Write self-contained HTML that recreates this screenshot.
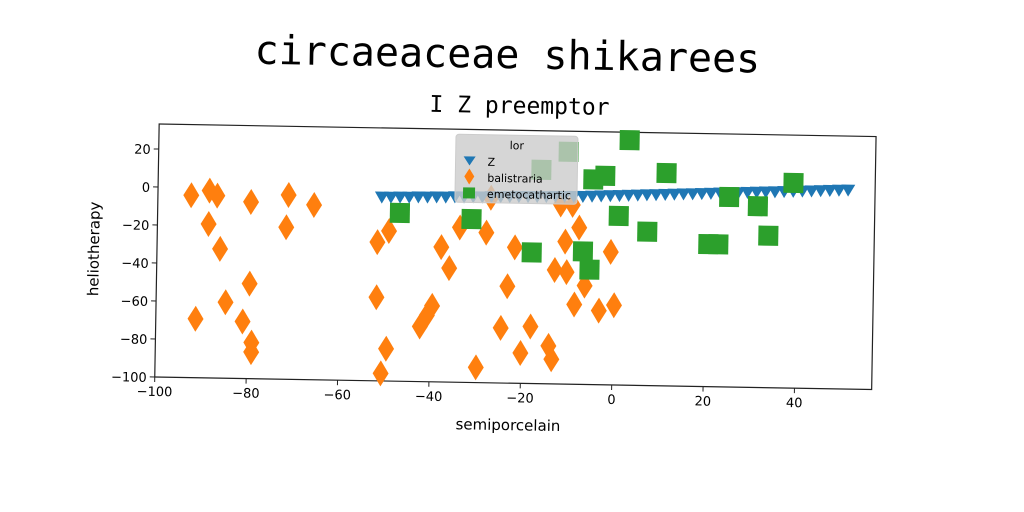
<!DOCTYPE html>
<html><head><meta charset="utf-8"><style>
html,body{margin:0;padding:0;background:#fff;}
svg{display:block;font-family:"DejaVu Sans","Liberation Sans",sans-serif;}
</style></head><body>
<svg id="chart" width="1024" height="512" viewBox="0 0 1024 512">
<g id="rot" transform="rotate(1,615,195)">
<text x="505" y="70" font-family="DejaVu Sans Mono, Liberation Mono, monospace" font-size="40" text-anchor="middle">circaeaceae shikarees</text>
<text x="518" y="115" font-family="DejaVu Sans Mono, Liberation Mono, monospace" font-size="23" text-anchor="middle">I Z preemptor</text>
<rect x="158" y="132" width="717" height="253" fill="#fff" stroke="#222" stroke-width="1.2"/>
<g id="marks"></g>
<g id="ticks"></g>
<text x="512" y="432" font-size="15" text-anchor="middle">semiporcelain</text>
<text x="0" y="0" font-size="15" text-anchor="middle" transform="translate(100,258) rotate(-90)">heliotherapy</text>
<g>
<rect x="455" y="137" width="122" height="68" rx="3" fill="#ccc" fill-opacity="0.8" stroke="#ccc"/>
<text x="516" y="151" font-size="11" text-anchor="middle">lor</text>
<path d="M463,159 L475,159 L469,168 Z" fill="#1f77b4"/>
<text x="487" y="168" font-size="11">Z</text>
<path d="M469,171 L474,179 L469,187 L464,179 Z" fill="#ff7f0e"/>
<text x="487" y="184" font-size="11">balistraria</text>
<rect x="463" y="190" width="12" height="11" fill="#2ca02c"/>
<text x="487" y="200" font-size="11">emetocathartic</text>
</g>
</g>
</svg>
<script>
const xTicks=[-100,-80,-60,-40,-20,0,20,40];
const yTicks=[20,0,-20,-40,-60,-80,-100];
const blueX=[-51,-49,-47,-45,-43,-41,-39,-37,-35,-33,-31,-29,-27,-25,-23,-21,-19,-17,-15,-13,-11,-9,-7,-5,-3,-1,1,3,5,7,9,11,13,15,17,19,21,23,25,27,29,31,33,35,37,39,41,43,45,47,49,51];
const blueY=[-3,-3,-2.8,-2.8,-2.6,-2.6,-2.4,-2.4,-2.2,-2.2,-2,-2,-1.8,-1.8,-1.6,-1.5,-1.4,-1.3,-1.2,-1.1,-1,-0.9,-0.8,-0.6,-0.4,-0.2,0,0.2,0.4,0.6,0.8,1,1.2,1.4,1.6,1.8,2,2.2,2.4,2.6,2.8,3,3.2,3.4,3.6,3.8,4,4.2,4.4,4.6,4.8,5];
const orangeX=[-92.7,-88.7,-87,-88.8,-86.2,-79.6,-71.4,-71.8,-65.8,-79.6,-84.8,-91.3,-81,-79,-79,-51.8,-49.3,-51.8,-49.5,-50.6,-42.2,-40.7,-39.6,-37.8,-36,-33.8,-28,-27.1,-21.7,-23.2,-24.5,-18,-20.1,-14,-13.3,-29.8,-12.9,-10.3,-10.7,-7.7,-11.8,-9.2,-6.3,-8.5,-3.1,0.2,-0.7];
const orangeY=[-4,-1.4,-4,-19,-32,-7,-3,-20,-8,-50,-60,-69,-70,-81,-86,-27,-21,-56,-83,-96,-71,-65,-60,-29,-40,-18.5,-21,-2.6,-28.5,-49,-71,-70,-84,-80,-87,-92,-40,-41,-25,-17.5,-5.5,-5.6,-48,-58,-61,-58,-30];
const greenX=[-47,-31.3,-16.2,-10.3,-18,-6.8,-5.3,-4.8,-2.2,0.9,3,7.2,11.2,20.6,22.8,25,31.3,33.7,39];
const greenY=[-11.4,-14,12.6,22.3,-31,-30,-39.5,8,10,-11,29,-19,12,-25,-25,0,-4.6,-20,8];
const NS='http://www.w3.org/2000/svg';
function sx(v){return 615+v*4.57;}
function sy(v){return 195-v*1.9;}
const marks=document.getElementById('marks');
const ticks=document.getElementById('ticks');
function mk(tag,attrs,parent){const e=document.createElementNS(NS,tag);for(const k in attrs)e.setAttribute(k,attrs[k]);parent.appendChild(e);return e;}
xTicks.forEach(t=>{
  const l=mk('line',{x1:sx(t),x2:sx(t),y1:385,y2:390,stroke:'#222'},ticks);
  
  
  const tx=mk('text',{x:sx(t),y:404,'font-size':13,'text-anchor':'middle'},ticks);
  tx.textContent=t<0?'\u2212'+Math.abs(t):String(t);
  
  
});
yTicks.forEach(t=>{
  const l=mk('line',{x1:153,x2:158,y1:sy(t),y2:sy(t),stroke:'#222'},ticks);
  
  
  const tx=mk('text',{x:150,y:sy(t)+5,'font-size':13,'text-anchor':'end'},ticks);
  tx.textContent=t<0?'\u2212'+Math.abs(t):String(t);
  
  
});
orangeX.forEach((x,i)=>{
  const cx=sx(x),cy=sy(orangeY[i]);
  const p=mk('path',{d:`M${cx},${cy-13} L${cx+8},${cy} L${cx},${cy+13} L${cx-8},${cy} Z`,fill:'#ff7f0e'},marks);
  
  
});
blueX.forEach((x,i)=>{
  const cx=sx(x),cy=sy(blueY[i]);
  const p=mk('path',{d:`M${cx-7},${cy-5} L${cx+7},${cy-5} L${cx},${cy+7} Z`,fill:'#1f77b4'},marks);
  
  
});
greenX.forEach((x,i)=>{
  const cx=sx(x),cy=sy(greenY[i]);
  const r=mk('rect',{x:cx-10,y:cy-10,width:20,height:20,fill:'#2ca02c'},marks);
  
  
});
</script>
</body></html>
